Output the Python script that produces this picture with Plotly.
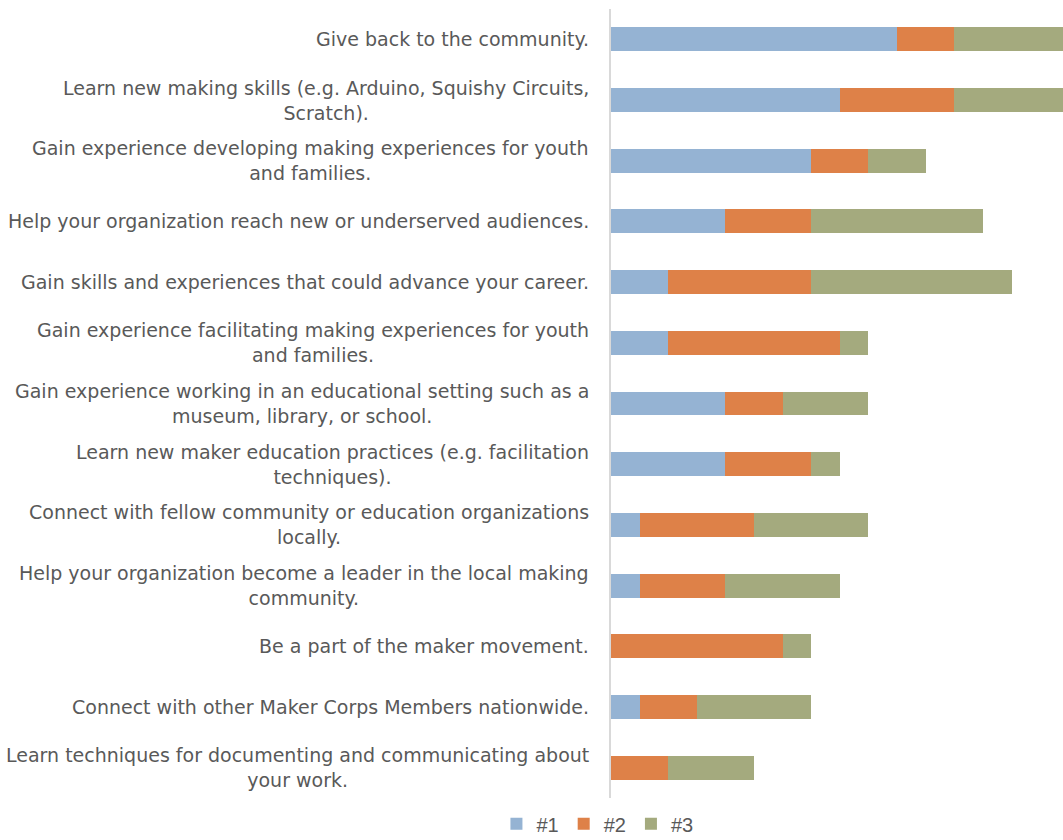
import plotly.graph_objects as go

categories = [
    "Give back to the community.",
    "Learn new making skills (e.g. Arduino, Squishy Circuits,<br>Scratch).",
    "Gain experience developing making experiences for youth<br>and families.",
    "Help your organization reach new or underserved audiences.",
    "Gain skills and experiences that could advance your career.",
    "Gain experience facilitating making experiences for youth<br>and families.",
    "Gain experience working in an educational setting such as a<br>museum, library, or school.",
    "Learn new maker education practices (e.g. facilitation<br>techniques).",
    "Connect with fellow community or education organizations<br>locally.",
    "Help your organization become a leader in the local making<br>community.",
    "Be a part of the maker movement.",
    "Connect with other Maker Corps Members nationwide.",
    "Learn techniques for documenting and communicating about<br>your work.",
]
rank1 = [10, 8, 7, 4, 2, 2, 4, 4, 1, 1, 0, 1, 0]
rank2 = [2, 4, 2, 3, 5, 6, 2, 3, 4, 3, 6, 2, 2]
rank3 = [4, 4, 2, 6, 7, 1, 3, 1, 4, 4, 1, 4, 3]
series_names = ["#1", "#2", "#3"]
colors = ["#95B3D3", "#DE8148", "#A4AA7E"]

ids = list(range(len(categories)))

fig = go.Figure()
for name, vals, col in zip(series_names, [rank1, rank2, rank3], colors):
    fig.add_trace(go.Bar(
        y=ids, x=vals, name=name, orientation="h",
        marker=dict(color=col, line=dict(width=0)),
    ))

for i, lab in zip(ids, categories):
    fig.add_annotation(
        x=0, xref="paper", y=i, yref="y", text=lab, showarrow=False,
        xanchor="right", yanchor="middle", align="center", xshift=-20,
        font=dict(family="DejaVu Sans", size=19, color="#595959"),
    )

fig.update_layout(
    barmode="stack",
    bargap=0.605,
    width=1063, height=840,
    margin=dict(l=611, r=0, t=9, b=42, autoexpand=False),
    plot_bgcolor="white", paper_bgcolor="white",
    showlegend=True,
    legend=dict(
        orientation="h", x=-0.03, xanchor="center", y=-0.008, yanchor="top",
        font=dict(family="Liberation Sans", size=20, color="#595959"),
        traceorder="normal", itemwidth=30,
    ),
    xaxis=dict(range=[0, 15.8], showgrid=False, showticklabels=False,
               zeroline=False, showline=False, ticks=""),
    yaxis=dict(autorange="reversed", showticklabels=False, showgrid=False,
               zeroline=False, showline=True, linecolor="#D9D9D9", linewidth=2,
               ticks=""),
)

fig.write_html(
    "out.html",
    config={"displayModeBar": False},
    post_script="document.body.style.margin='0';document.body.style.overflow='hidden';",
)
